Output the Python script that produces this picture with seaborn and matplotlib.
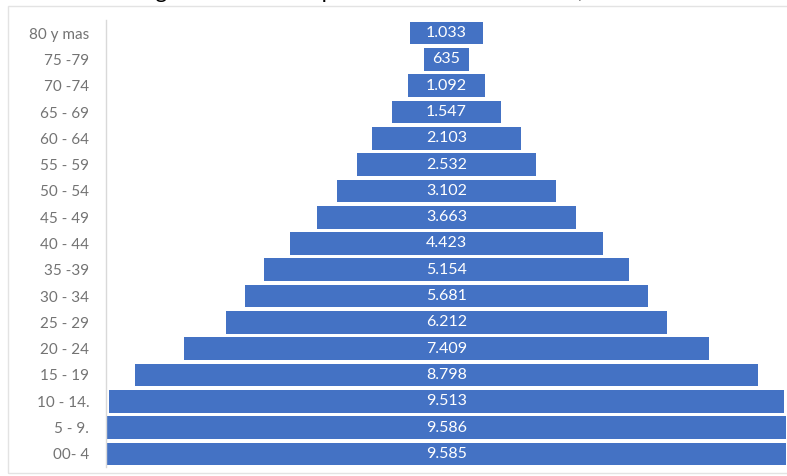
import matplotlib
matplotlib.use("Agg")
import matplotlib.pyplot as plt
import seaborn as sns
import pandas as pd
from matplotlib.patches import Rectangle

# Datos
grupos = ["80 y mas", "75 -79", "70 -74", "65 - 69", "60 - 64", "55 - 59",
          "50 - 54", "45 - 49", "40 - 44", "35 -39", "30 - 34", "25 - 29",
          "20 - 24", "15 - 19", "10 - 14.", "5 - 9.", "00- 4"]
poblacion = [1033, 635, 1092, 1547, 2103, 2532, 3102, 3663, 4423, 5154,
             5681, 6212, 7409, 8798, 9513, 9586, 9585]
titulo = "Rango de edad de la población total del distrito, 2020"

df = pd.DataFrame({"grupo": grupos, "poblacion": poblacion})

sns.set_theme(style="white")
plt.rcParams["font.family"] = ["Lato", "DejaVu Sans"]

fig = plt.figure(figsize=(7.87, 4.76), dpi=100)
ax = fig.add_axes([106 / 787, 1 - 467 / 476, 681 / 787, 447 / 476])

sns.barplot(data=df, x="poblacion", y="grupo", orient="h", color="#4472C4",
            saturation=1, width=0.86, ax=ax)

# centrar cada barra (forma de piramide)
for p in ax.patches:
    p.set_x(-p.get_width() / 2)
    p.set_edgecolor("none")

m = max(poblacion)
ax.set_xlim(-m / 2 - 10, m / 2 + 10)

# etiquetas de valores en el centro
for i, v in enumerate(poblacion):
    ax.text(0, i, f"{v:,}".replace(",", "."), ha="center", va="center",
            color="white", fontsize=11.5)

ax.set_xlabel("")
ax.set_ylabel("")
ax.set_xticks([])
ax.tick_params(axis="y", length=0, pad=12, labelsize=11, labelcolor="#737373")
for s in ["top", "right", "bottom"]:
    ax.spines[s].set_visible(False)
ax.spines["left"].set_color("#d9d9d9")
ax.spines["left"].set_linewidth(1)

# borde del area del grafico y titulo cortado arriba (como en la imagen)
fig.patches.append(Rectangle((8 / 787, 3 / 476), 1, 1 - 9 / 476,
                             transform=fig.transFigure, fill=False,
                             edgecolor="#e3e3e3", linewidth=1))
fig.text(118 / 787, 1 + 1.5 / 476, titulo, ha="left", va="baseline",
         fontsize=16, color="black")

fig.savefig("out.png", dpi=100)
